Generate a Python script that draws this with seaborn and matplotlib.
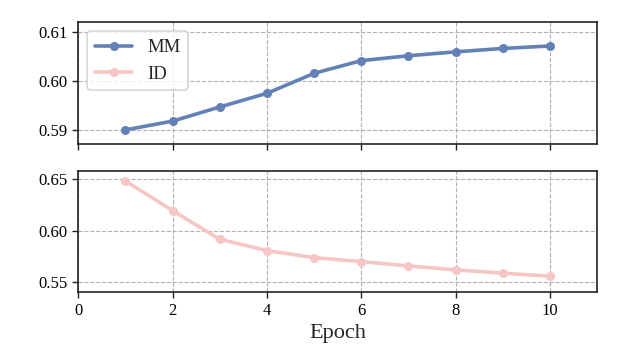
import pandas as pd
import seaborn as sns
import matplotlib.pyplot as plt
from matplotlib import font_manager

epochs = [1, 2, 3, 4, 5, 6, 7, 8, 9, 10]
mm_vals = [0.5900, 0.5918, 0.5947, 0.5975, 0.6016, 0.6042, 0.6052, 0.6060, 0.6067, 0.6072]
id_vals = [0.6480, 0.6194, 0.5918, 0.5808, 0.5740, 0.5702, 0.5660, 0.5622, 0.5590, 0.5561]

mm_color = "#6282b7"
id_color = "#f5c6c3"

sns.set_style("ticks")
names = sorted({f.name for f in font_manager.fontManager.ttflist})
serif = [n for n in ["Liberation Serif", "Times New Roman", "Nimbus Roman", "DejaVu Serif"] if n in names]
plt.rcParams['font.family'] = 'serif'
plt.rcParams['font.serif'] = serif
plt.rcParams['mathtext.fontset'] = 'stix'

df = pd.DataFrame({"Epoch": epochs, "MM": mm_vals, "ID": id_vals})

fig = plt.figure(figsize=(6.3, 3.62), dpi=100)
ax1 = fig.add_axes([0.124, 0.602, 0.824, 0.337])
ax2 = fig.add_axes([0.124, 0.193, 0.824, 0.335], sharex=ax1)

sns.lineplot(data=df, x="Epoch", y="MM", ax=ax1, color=mm_color, marker="o",
             markersize=6.5, markeredgewidth=0, linewidth=2.6, label="MM")
# empty ID handle for the legend in the top panel
ax1.plot([], [], color=id_color, marker="o", markersize=6.5, markeredgewidth=0,
         linewidth=2.6, label="ID")
sns.lineplot(data=df, x="Epoch", y="ID", ax=ax2, color=id_color, marker="o",
             markersize=6.5, markeredgewidth=0, linewidth=2.6)

ax1.set_ylim(0.5871, 0.6121)
ax1.set_yticks([0.59, 0.60, 0.61])
ax2.set_ylim(0.5407, 0.6577)
ax2.set_yticks([0.55, 0.60, 0.65])
ax2.set_xlim(0, 11)
ax2.set_xticks([0, 2, 4, 6, 8, 10])

for ax in (ax1, ax2):
    ax.grid(True, linestyle="--", color="#b0b0b0", linewidth=0.8)
    ax.set_axisbelow(True)
    ax.set_ylabel("")
    for sp in ax.spines.values():
        sp.set_linewidth(1.2)
        sp.set_color("#222222")
    ax.tick_params(labelsize=12, width=1.0, length=4, colors="#222222")
    ax.tick_params(labelcolor="black")

ax1.tick_params(labelbottom=False)
ax1.set_xlabel("")
ax2.set_xlabel("Epoch", fontsize=16)

leg = ax1.legend(loc="upper left", fontsize=13.5, frameon=True, fancybox=True,
                 handlelength=2.0, borderpad=0.4, labelspacing=0.5)
leg.get_frame().set_edgecolor("#cccccc")
leg.get_frame().set_linewidth(1.2)

fig.savefig("out.png", dpi=100)
